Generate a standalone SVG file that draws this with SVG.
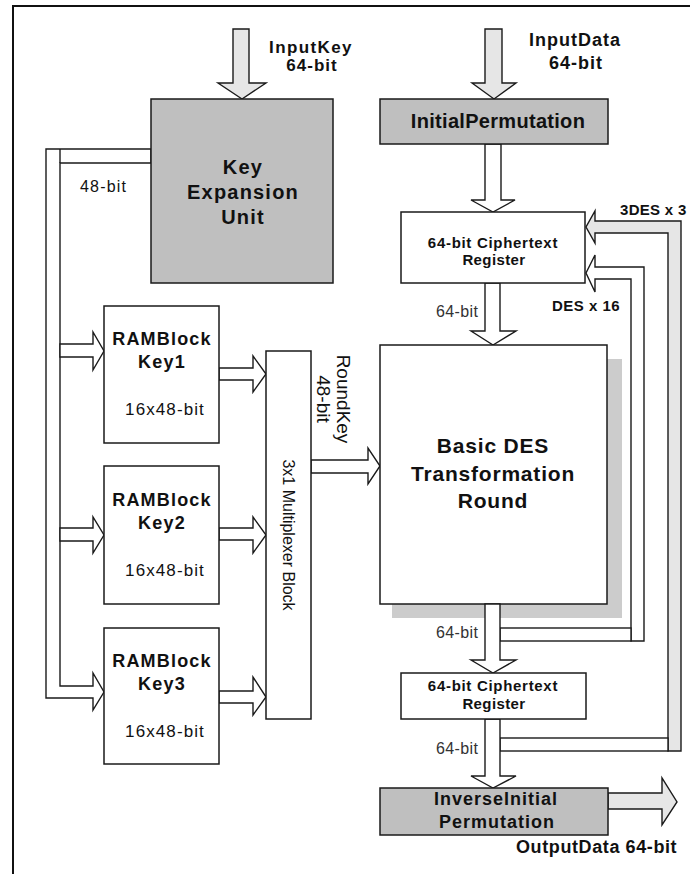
<svg xmlns="http://www.w3.org/2000/svg" width="690" height="874" viewBox="0 0 690 874">
<style>
.box{fill:#fff;stroke:#1a1a1a;stroke-width:1.5}
.gbox{fill:#bfbfbf;stroke:#1a1a1a;stroke-width:1.5}
.arrW{fill:#fff;stroke:#1a1a1a;stroke-width:1.4;stroke-linejoin:miter}
.arrL{fill:#e6e6e6;stroke:#1a1a1a;stroke-width:1.4;stroke-linejoin:miter}
text{font-family:"Liberation Sans",Arial,sans-serif;fill:#111}
.b{font-weight:bold}
.lbl{font-size:16px;fill:#333}
</style>
<rect width="690" height="874" fill="#fff"/>
<path d="M13,874 V6 H690" fill="none" stroke="#111" stroke-width="2"/>

<g id="connectors">
  <polygon class="arrL" points="233,29 249,29 249,83 266,83 242,99 218,83 233,83"/>
  <polygon class="arrL" points="485,29 502,29 502,83 516,83 494,99 472,83 485,83"/>
  <polygon class="arrW" points="485,144 501,144 501,200 515,200 493,212 471,200 485,200"/>
  <polygon class="arrW" points="485,283 500,283 500,331 516,331 493,345 471,331 485,331"/>
  <!-- key bus -->
  <polygon class="arrW" points="151,149 46,149 46,698 93,698 93,710 104,692 93,673 93,686 60,686 60,163 151,163"/>
  <line x1="60" y1="149" x2="60" y2="163" stroke="#1a1a1a" stroke-width="1.4"/>
  <polygon class="arrW" points="60,344 93,344 93,332 104,351 93,370 93,357 60,357"/>
  <polygon class="arrW" points="60,528 93,528 93,517 104,535 93,553 93,541 60,541"/>
  <polygon class="arrW" points="219,368 253,368 253,356 266,374 253,392 253,380 219,380"/>
  <polygon class="arrW" points="219,528 253,528 253,517 266,535 253,553 253,540 219,540"/>
  <polygon class="arrW" points="219,691 253,691 253,677 266,697 253,715 253,703 219,703"/>
  <polygon class="arrW" points="311,460 368,460 368,448 380,466 368,484 368,473 311,473"/>
  <!-- feedback DES x 16 -->
  <polygon class="arrW" points="631,641 631,279 595,279 595,292 586,273 595,255 595,267 644,267 644,641"/>
  <rect class="arrW" x="500" y="628" width="131" height="13"/>
  <!-- feedback 3DES x 3 -->
  <polygon class="arrL" points="668,751 668,233 595,233 595,243 586,227 595,211 595,221 681,221 681,751"/>
  <rect class="arrW" x="500" y="738" width="168" height="13"/>
  <polygon class="arrL" points="608,793 662,793 662,778 677,802 662,825 662,809 608,809"/>
</g>

<g id="keyExpansion">
  <rect class="gbox" x="151" y="99" width="182" height="184"/>
  <text class="b" font-size="20" letter-spacing="1.2" text-anchor="middle" x="243" y="174">Key</text>
  <text class="b" font-size="20" letter-spacing="1.2" text-anchor="middle" x="243" y="199">Expansion</text>
  <text class="b" font-size="20" letter-spacing="1.2" text-anchor="middle" x="243" y="224">Unit</text>
</g>
<g id="inputKeyLabel">
  <text class="b" font-size="17" letter-spacing="1.4" text-anchor="middle" x="311" y="53">InputKey</text>
  <text class="b" font-size="17" letter-spacing="1" text-anchor="middle" x="312" y="71">64-bit</text>
</g>
<g id="inputDataLabel">
  <text class="b" font-size="18" letter-spacing="1" text-anchor="middle" x="575" y="46">InputData</text>
  <text class="b" font-size="18" letter-spacing="1" text-anchor="middle" x="576" y="69">64-bit</text>
</g>
<text font-size="16" letter-spacing="1.2" x="80" y="192">48-bit</text>

<g id="initialPermutation">
  <rect class="gbox" x="380" y="99" width="228" height="45"/>
  <text class="b" font-size="20" letter-spacing="0.3" text-anchor="middle" x="498" y="128">InitialPermutation</text>
</g>

<g id="register1">
  <rect class="box" x="401" y="212" width="184" height="71"/>
  <text class="b" font-size="15" letter-spacing="0.7" text-anchor="middle" x="493" y="248">64-bit Ciphertext</text>
  <text class="b" font-size="15" letter-spacing="0.4" text-anchor="middle" x="494" y="265">Register</text>
</g>
<text class="b" font-size="15" letter-spacing="0.3" x="620" y="215">3DES x 3</text>
<text class="b" font-size="15" letter-spacing="0.5" x="552" y="311">DES x 16</text>
<text class="lbl" letter-spacing="0.4" x="436" y="317">64-bit</text>

<g id="ramKey1">
  <rect class="box" x="104" y="306" width="115" height="137"/>
  <text class="b" font-size="18" letter-spacing="1.2" text-anchor="middle" x="162" y="345">RAMBlock</text>
  <text class="b" font-size="18" letter-spacing="1.2" text-anchor="middle" x="162" y="368">Key1</text>
  <text font-size="17" letter-spacing="1.1" text-anchor="middle" x="165" y="415">16x48-bit</text>
</g>
<g id="ramKey2">
  <rect class="box" x="104" y="466" width="115" height="138"/>
  <text class="b" font-size="18" letter-spacing="1.2" text-anchor="middle" x="162" y="506">RAMBlock</text>
  <text class="b" font-size="18" letter-spacing="1.2" text-anchor="middle" x="162" y="529">Key2</text>
  <text font-size="17" letter-spacing="1.1" text-anchor="middle" x="165" y="576">16x48-bit</text>
</g>
<g id="ramKey3">
  <rect class="box" x="104" y="628" width="115" height="136"/>
  <text class="b" font-size="18" letter-spacing="1.2" text-anchor="middle" x="162" y="667">RAMBlock</text>
  <text class="b" font-size="18" letter-spacing="1.2" text-anchor="middle" x="162" y="690">Key3</text>
  <text font-size="17" letter-spacing="1.1" text-anchor="middle" x="165" y="737">16x48-bit</text>
</g>

<g id="mux">
  <rect class="box" x="266" y="351" width="45" height="368"/>
  <text font-size="16" text-anchor="middle" transform="translate(283,535) rotate(90)">3x1 Multiplexer Block</text>
</g>
<g id="roundKeyLabel">
  <text font-size="19" text-anchor="middle" transform="translate(337,399) rotate(90)">RoundKey</text>
  <text font-size="19" text-anchor="middle" transform="translate(317,399) rotate(90)">48-bit</text>
</g>

<g id="desRound">
  <rect x="392" y="359" width="230" height="259" fill="#cccccc"/>
  <rect class="box" x="380" y="345" width="227" height="259"/>
  <text class="b" font-size="21" letter-spacing="0.8" text-anchor="middle" x="493" y="453">Basic DES</text>
  <text class="b" font-size="21" letter-spacing="0.8" text-anchor="middle" x="493" y="481">Transformation</text>
  <text class="b" font-size="21" letter-spacing="0.8" text-anchor="middle" x="493" y="508">Round</text>
</g>
<g id="arrowsLower">
  <polygon class="arrW" points="485,604 500,604 500,660 516,660 493,673 471,660 485,660"/>
  <polygon class="arrW" points="485,719 500,719 500,776 516,776 493,788 471,776 485,776"/>
</g>
<text class="lbl" letter-spacing="0.4" x="436" y="638">64-bit</text>

<g id="register2">
  <rect class="box" x="401" y="673" width="185" height="46"/>
  <text class="b" font-size="15" letter-spacing="0.7" text-anchor="middle" x="493" y="691">64-bit Ciphertext</text>
  <text class="b" font-size="15" letter-spacing="0.4" text-anchor="middle" x="494" y="709">Register</text>
</g>
<text class="lbl" letter-spacing="0.4" x="436" y="754">64-bit</text>

<g id="inverseIP">
  <rect class="gbox" x="380" y="788" width="228" height="47"/>
  <text class="b" font-size="18" letter-spacing="1" text-anchor="middle" x="496" y="805">InverseInitial</text>
  <text class="b" font-size="18" letter-spacing="1" text-anchor="middle" x="497" y="828">Permutation</text>
</g>
<text class="b" font-size="18" letter-spacing="0.6" x="516" y="853">OutputData 64-bit</text>
</svg>
